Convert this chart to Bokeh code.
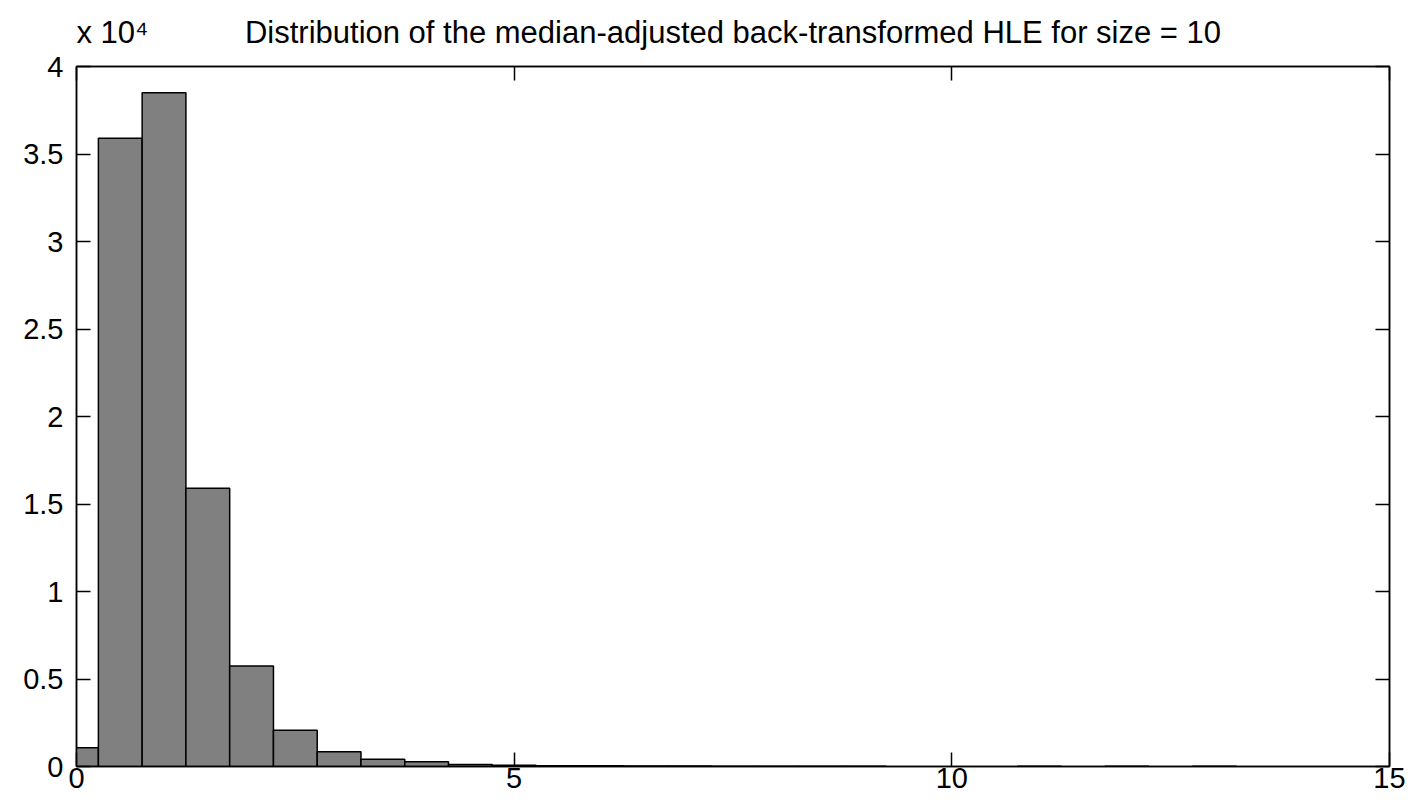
from bokeh.plotting import figure
from bokeh.models import (Range1d, FixedTicker, LinearAxis, CustomJSTickFormatter,
                          ColumnDataSource, CustomLabelingPolicy)
from bokeh.embed import file_html
from bokeh.resources import INLINE

# ---- data ----
bin_centers = [0.0, 0.5, 1.0, 1.5, 2.0, 2.5, 3.0, 3.5, 4.0, 4.5, 5.0, 5.5, 6.0, 6.5,
               7.0, 7.5, 8.0, 8.5, 9.0, 9.5, 10.0, 10.5, 11.0, 11.5, 12.0, 12.5, 13.0]
counts = [1070, 35900, 38500, 15900, 5740, 2070, 840, 420, 270, 120, 70, 50, 40, 30,
          25, 20, 15, 12, 10, 0, 0, 0, 8, 0, 8, 0, 8]
bin_width = 0.5
x_ticks = [0, 5, 10, 15]
y_ticks = [0, 5000, 10000, 15000, 20000, 25000, 30000, 35000, 40000]
title_text = "Distribution of the median-adjusted back-transformed HLE for size = 10"
exponent_text = "x 10\u2074"
# horizontal anchors (in x data units) of the two header texts
exponent_anchor = 0.41
title_anchor = 7.5

FONT = "Liberation Sans"
FS = "29px"

lefts, rights, tops = [], [], []
for c, n in zip(bin_centers, counts):
    if n > 0:
        lefts.append(c - bin_width / 2)
        rights.append(c + bin_width / 2)
        tops.append(n)
src = ColumnDataSource(dict(left=lefts, right=rights, top=tops, bottom=[0] * len(tops)))

p = figure(width=1407, height=793, output_backend="svg", toolbar_location=None,
           x_range=Range1d(0, 15), y_range=Range1d(0, 40000),
           min_border_left=76, min_border_right=18, min_border_top=66, min_border_bottom=27,
           background_fill_color="white", border_fill_color="white")
p.title.visible = False

p.quad(left="left", right="right", top="top", bottom="bottom", source=src,
       fill_color="#808080", line_color="black", line_width=1.5)

p.xgrid.visible = False
p.ygrid.visible = False
p.outline_line_color = "black"
p.outline_line_width = 1.5

fmt = CustomJSTickFormatter(code="return (tick/1e4).toString();")
hide_all = CustomLabelingPolicy(code="""
for (let i = 0; i < indices.size; i++) { indices.unset(i) }
return indices
""")

def style(ax, show_labels):
    ax.major_tick_in = 14
    ax.major_tick_out = 0
    ax.minor_tick_line_color = None
    ax.axis_line_color = "black"
    ax.axis_line_width = 1.5
    ax.major_tick_line_color = "black"
    ax.major_tick_line_width = 1.5
    if show_labels:
        ax.major_label_text_font = FONT
        ax.major_label_text_font_size = FS
        ax.major_label_text_color = "black"
    else:
        ax.major_label_text_font_size = "1px"
        ax.major_label_standoff = 0
        ax.major_label_policy = hide_all

p.xaxis.ticker = FixedTicker(ticks=x_ticks)
p.yaxis.ticker = FixedTicker(ticks=y_ticks)
p.yaxis.formatter = fmt
style(p.xaxis[0], True)
style(p.yaxis[0], True)
p.xaxis.major_label_standoff = 1
p.yaxis.major_label_standoff = 13

# box ticks on top and right
top_ax = LinearAxis(ticker=FixedTicker(ticks=x_ticks))
style(top_ax, False)
p.add_layout(top_ax, "above")
right_ax = LinearAxis(ticker=FixedTicker(ticks=y_ticks))
style(right_ax, False)
p.add_layout(right_ax, "right")

# header texts: title and the y multiplier, drawn as labels of a tick-less top axis
head_ax = LinearAxis(ticker=FixedTicker(ticks=[exponent_anchor, title_anchor]),
                     major_label_overrides={exponent_anchor: exponent_text,
                                            title_anchor: title_text})
head_ax.axis_line_color = None
head_ax.major_tick_line_color = None
head_ax.minor_tick_line_color = None
head_ax.major_tick_in = 0
head_ax.major_tick_out = 0
head_ax.major_label_standoff = 13
head_ax.major_label_text_font = FONT
head_ax.major_label_text_font_size = "31px"
head_ax.major_label_text_color = "black"
p.add_layout(head_ax, "above")

open("out.html", "w").write(file_html(p, INLINE))
